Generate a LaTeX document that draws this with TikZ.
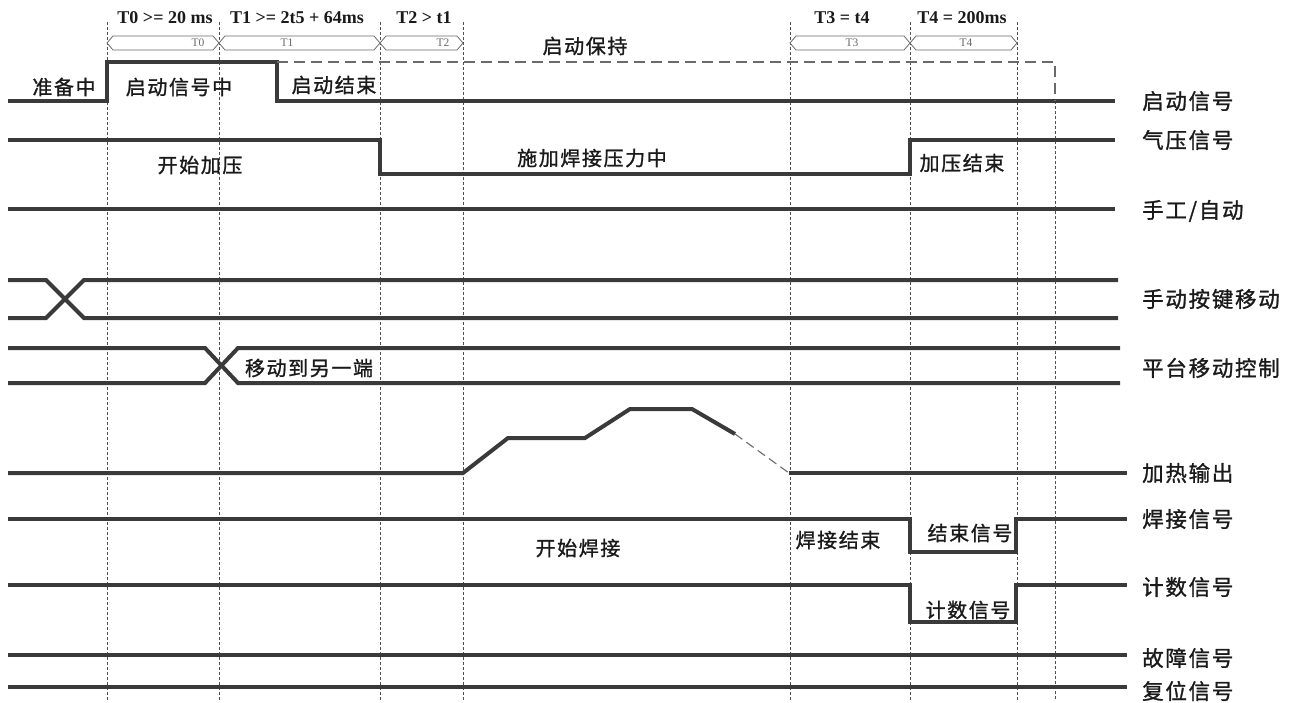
\documentclass[tikz,border=0pt]{standalone}
\usepackage{fontspec}
\setmainfont{Liberation Serif}
\newfontfamily\cjk[LetterSpace=8,FakeBold=1.2]{Noto Sans CJK SC}
\definecolor{sigc}{HTML}{3A3A3A}
\definecolor{gridc}{HTML}{505050}
\definecolor{txtc}{HTML}{1A1A1A}
\definecolor{hexc}{HTML}{6A6A6A}
\begin{document}
\begin{tikzpicture}[x=1pt,y=-1pt,
  sig/.style={line width=4pt, draw=sigc, line join=miter, line cap=butt},
  gridline/.style={line width=0.8pt, draw=gridc, dash pattern=on 3pt off 2pt},
  dbox/.style={line width=1.1pt, draw=hexc, dash pattern=on 11pt off 6pt},
  thindash/.style={line width=1.1pt, draw=hexc, dash pattern=on 9pt off 5pt},
  hexs/.style={line width=0.8pt, draw=hexc, fill=white},
  inlbl/.style={font=\cjk\fontsize{20}{20}\selectfont, text=txtc, inner sep=0pt},
  rlbl/.style={font=\cjk\fontsize{21.5}{21.5}\selectfont, text=txtc, inner sep=0pt, anchor=west},
  hdr/.style={font=\bfseries\fontsize{18}{18}\selectfont, text=txtc, inner sep=0pt},
  hexlbl/.style={font=\fontsize{11.5}{11.5}\selectfont, text=hexc, inner sep=0pt}]
\useasboundingbox[fill=white] (0,0) rectangle (1299,702);

% vertical timing guides
\foreach \x in {107,219,380,463,790,910,1017}
  \draw[gridline] (\x,22) -- (\x,700);
\draw[gridline] (1055,101) -- (1055,700);

% header interval shapes
\foreach \a/\b in {107/219,219/380,380/463,790/910,910/1017}
  \draw[hexs] (\a,43) -- ({\a+6},36) -- ({\b-6},36) -- (\b,43) -- ({\b-6},50) -- ({\a+6},50) -- cycle;
\node[hexlbl] (h0) at (198,43) {T0};
\node[hexlbl] (h1) at (287,43) {T1};
\node[hexlbl] (h2) at (443,43) {T2};
\node[hexlbl] (h3) at (852,43) {T3};
\node[hexlbl] (h4) at (966,43) {T4};

% header texts
\node[hdr] (t0) at (165,18) {T0 >= 20 ms};
\node[hdr] (t1) at (297,18) {T1 >= 2t5 + 64ms};
\node[hdr] (t2) at (424,18) {T2 > t1};
\node[hdr] (t3) at (842,18) {T3 = t4};
\node[hdr] (t4) at (962,18) {T4 = 200ms};

% start signal
\draw[sig] (8,101) -- (107,101) -- (107,62) -- (277,62) -- (277,101) -- (1115,101);
\draw[dbox] (277,62) -- (1055,62) -- (1055,101);
% air pressure
\draw[sig] (8,140) -- (380,140) -- (380,174) -- (910,174) -- (910,140) -- (1115,140);
% manual/auto
\draw[sig] (8,209) -- (1115,209);
% manual key move
\draw[sig] (8,280) -- (46,280) -- (84,318) -- (1118,318);
\draw[sig] (8,318) -- (46,318) -- (84,280) -- (1118,280);
% platform move control
\draw[sig] (8,348) -- (205,348) -- (238,383) -- (1120,383);
\draw[sig] (8,383) -- (205,383) -- (238,348) -- (1120,348);
% heating output
\draw[sig] (8,473) -- (463,473) -- (508,438) -- (585,438) -- (630,409) -- (692,409) -- (735,434);
\draw[thindash] (735,434) -- (789,473);
\draw[sig] (789,473) -- (1127,473);
% welding signal
\draw[sig] (8,519) -- (910,519) -- (910,552) -- (1016,552) -- (1016,519) -- (1127,519);
% count signal
\draw[sig] (8,585) -- (910,585) -- (910,622) -- (1016,622) -- (1016,585) -- (1127,585);
% fault / reset
\draw[sig] (8,655) -- (1127,655);
\draw[sig] (8,687) -- (1127,687);

% inner labels
\node[inlbl] (l1) at (64,87) {准备中};
\node[inlbl] (l2) at (179,87) {启动信号中};
\node[inlbl] (l3) at (334,85) {启动结束};
\node[inlbl] (l4) at (585,46) {启动保持};
\node[inlbl] (l5) at (200,165) {开始加压};
\node[inlbl] (l6) at (592,158) {施加焊接压力中};
\node[inlbl] (l7) at (962,163) {加压结束};
\node[inlbl] (l8) at (309,368) {移动到另一端};
\node[inlbl] (l9) at (578,548) {开始焊接};
\node[inlbl] (l10) at (838,540) {焊接结束};
\node[inlbl] (l11) at (970,533) {结束信号};
\node[inlbl] (l12) at (968,610) {计数信号};

% right labels
\node[rlbl] (r1) at (1142,101) {启动信号};
\node[rlbl] (r2) at (1142,140) {气压信号};
\node[rlbl] (r3) at (1142,211) {手工/自动};
\node[rlbl] (r4) at (1142,299) {手动按键移动};
\node[rlbl] (r5) at (1142,368) {平台移动控制};
\node[rlbl] (r6) at (1142,473) {加热输出};
\node[rlbl] (r7) at (1142,519) {焊接信号};
\node[rlbl] (r8) at (1142,587) {计数信号};
\node[rlbl] (r9) at (1142,658) {故障信号};
\node[rlbl] (r10) at (1142,691) {复位信号};
\end{tikzpicture}
\end{document}
